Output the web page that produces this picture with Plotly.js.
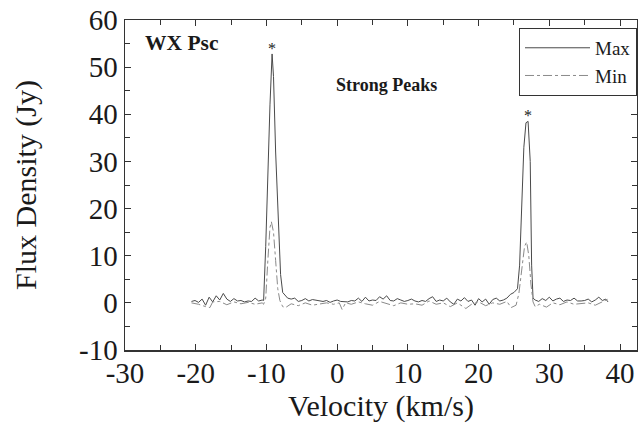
<!DOCTYPE html>
<html>
<head>
<meta charset="utf-8">
<script src="https://cdn.plot.ly/plotly-3.0.1.min.js"></script>
<style>html,body{margin:0;padding:0;background:#fff;}#chart{width:638px;height:427px;}</style>
</head>
<body>
<div id="chart"></div>
<script>
// Max series (solid)
const maxVelocity = [-20.6,-20.1,-19.6,-19.1,-18.6,-18.1,-17.6,-17.1,-16.6,-16.1,-15.6,-15.1,-14.6,-14.1,-13.6,-13.1,-12.6,-12.1,-11.6,-11.1,-10.6,
  -10.4,-10.1,-9.8,-9.5,-9.2,-9.0,-8.7,-8.3,-8.0,-7.7,-7.3,-7.0,
  -6.5,-6.0,-5.5,-5.0,-4.5,-4.0,-3.5,-3.0,-2.5,-2.0,-1.5,-1.0,-0.5,0.0,0.5,1.0,1.5,2.0,2.5,3.0,3.5,4.0,4.5,5.0,5.5,6.0,6.5,7.0,7.5,8.0,8.5,9.0,9.5,10.0,
  10.5,11.0,11.5,12.0,12.5,13.0,13.5,14.0,14.5,15.0,15.5,16.0,16.5,17.0,17.5,18.0,18.5,19.0,19.5,20.0,20.5,21.0,21.5,22.0,22.5,23.0,23.5,24.0,24.5,25.0,25.5,
  25.8,26.1,26.4,26.7,27.0,27.3,27.5,27.7,28.0,
  28.5,29.0,29.5,30.0,30.5,31.0,31.5,32.0,32.5,33.0,33.5,34.0,34.5,35.0,35.5,36.0,36.5,37.0,37.5,38.0,38.3];
const maxFlux = [0.3,0.5,0.1,0.8,-0.5,1.2,0.2,1.5,0.6,2.0,0.8,0.3,0.9,0.4,0.5,0.2,0.4,0.3,1.0,0.4,0.6,
  0.5,12,28,42,52.8,48,32,16,6,2.2,1.5,1.0,
  0.8,1.0,0.3,0.5,0.9,0.4,0.7,0.6,0.4,0.3,0.5,0.1,0.4,0.6,0.3,0.3,0.2,0.5,0.4,1.0,0.3,1.2,0.4,0.6,0.5,1.3,0.8,1.5,0.5,0.4,0.9,0.6,0.3,0.5,
  0.8,0.4,0.2,0.5,0.3,0.9,1.3,0.3,0.6,0.4,1.0,0.2,-0.3,0.8,0.4,1.1,0.3,0.6,-0.5,0.9,0.2,0.8,-0.3,0.7,1.0,0.4,0.6,1.0,1.8,2.2,3.0,
  8,22,33,38.2,38.5,30,8,1.0,0.6,
  0.3,0.9,0.5,1.2,0.4,0.8,1.0,0.3,0.6,0.5,1.0,0.4,0.4,0.5,0.8,0.2,0.6,1.2,0.5,0.8,0.2];

// Min series (dash-dot)
const minVelocity = [-20.6,-19.6,-18.6,-18.0,-17.6,-16.6,-15.6,-14.6,-13.6,-12.6,-11.6,-10.6,
  -10.4,-10.1,-9.8,-9.5,-9.3,-9.0,-8.7,-8.4,-8.1,-7.7,-7.3,
  -6.5,-5.5,-4.5,-3.5,-2.5,-1.5,-0.5,0.3,0.7,1.2,2,3,4,5,6,7,8,9,10,11,12,13,14,15,16,17,18.2,19,20,21,22,23,24,24.6,
  25.3,25.7,26.1,26.5,26.8,27.1,27.4,27.7,28.0,
  28.6,29.6,30.5,31.5,32.5,33.5,34.5,35.5,36.5,37.5,38.3];
const minFlux = [0.0,-0.3,-0.8,-1.0,0.2,0.3,-0.4,0.2,-0.2,0.1,-0.3,0.0,
  -0.3,1,9,16,17.2,15,9,3,0.5,-0.8,-1.0,
  -0.2,-0.6,0.0,-0.5,-0.2,0.0,-0.3,0.0,-1.4,0.0,-0.3,0.2,-0.2,-0.5,0.3,-0.1,-0.6,0.0,-0.3,-0.2,-0.5,0.4,-0.3,0.0,-0.8,0.0,-1.2,-0.3,0.2,-0.6,0.0,-0.3,0.3,-1.0,
  -0.5,2,7,12,12.9,10,4,0.2,-0.8,
  -0.3,-0.9,0.0,-0.4,0.2,-0.3,-0.2,0.0,-0.5,0.3,0.8];

const seriesNames = ["Max", "Min"];
const xTickVals = [-30,-20,-10,0,10,20,30,40];
const xTickText = ["-30","-20","-10","0","10","20","30","40"];
const yTickVals = [-10,0,10,20,30,40,50,60];
const yTickText = ["-10","0","10","20","30","40","50","60"];

const serif = "Liberation Serif";
const ink = "#1a1a1a";

const traces = [
  {x: maxVelocity, y: maxFlux, name: seriesNames[0], type: "scatter", mode: "lines",
   line: {color: "#4a4a4a", width: 1}},
  {x: minVelocity, y: minFlux, name: seriesNames[1], type: "scatter", mode: "lines",
   line: {color: "#8a8a8a", width: 1, dash: "dashdot"}}
];

const layout = {
  width: 638, height: 427,
  margin: {l: 125, r: 1, t: 20, b: 77},
  paper_bgcolor: "#fff", plot_bgcolor: "#fff",
  font: {family: serif, color: ink},
  showlegend: true,
  legend: {x: 1, xanchor: "right", y: 0.976, yanchor: "top",
    bordercolor: "#333", borderwidth: 1, bgcolor: "#fff",
    font: {family: serif, size: 19, color: ink}, itemwidth: 65},
  xaxis: {
    range: [-30, 42.4], tickvals: xTickVals, ticktext: xTickText, ticks: "inside", ticklen: 6, tickcolor: "#333",
    minor: {dtick: 5, ticks: "inside", ticklen: 5, tickcolor: "#333"},
    showline: true, linecolor: "#333", linewidth: 1.5, mirror: "ticks",
    showgrid: false, zeroline: false, ticklabelstandoff: -3,
    tickfont: {family: serif, size: 29, color: ink},
    title: {text: "Velocity (km/s)", font: {family: serif, size: 30, color: ink}, standoff: 0}
  },
  yaxis: {
    range: [-10, 60], tickvals: yTickVals, ticktext: yTickText, ticks: "inside", ticklen: 6, tickcolor: "#333",
    minor: {dtick: 5, ticks: "inside", ticklen: 5, tickcolor: "#333"},
    showline: true, linecolor: "#333", linewidth: 1.5, mirror: "ticks",
    showgrid: false, zeroline: false,
    tickfont: {family: serif, size: 29, color: ink},
    title: {text: "Flux Density (Jy)", font: {family: serif, size: 30, color: ink}, standoff: 33}
  },
  annotations: [
    {x: -27.5, y: 55.2, xref: "x", yref: "y", text: "<b>WX Psc</b>", showarrow: false,
     xanchor: "left", font: {family: serif, size: 21.5, color: ink}},
    {x: 7.0, y: 46.3, xref: "x", yref: "y", text: "<b>Strong Peaks</b>", showarrow: false,
     font: {family: serif, size: 18, color: ink}},
    {x: -9.2, y: 54.0, xref: "x", yref: "y", text: "*", showarrow: false,
     font: {family: serif, size: 16, color: ink}},
    {x: 27.0, y: 39.8, xref: "x", yref: "y", text: "*", showarrow: false,
     font: {family: serif, size: 16, color: ink}}
  ]
};

Plotly.newPlot("chart", traces, layout, {displayModeBar: false, staticPlot: true});
</script>
</body>
</html>
